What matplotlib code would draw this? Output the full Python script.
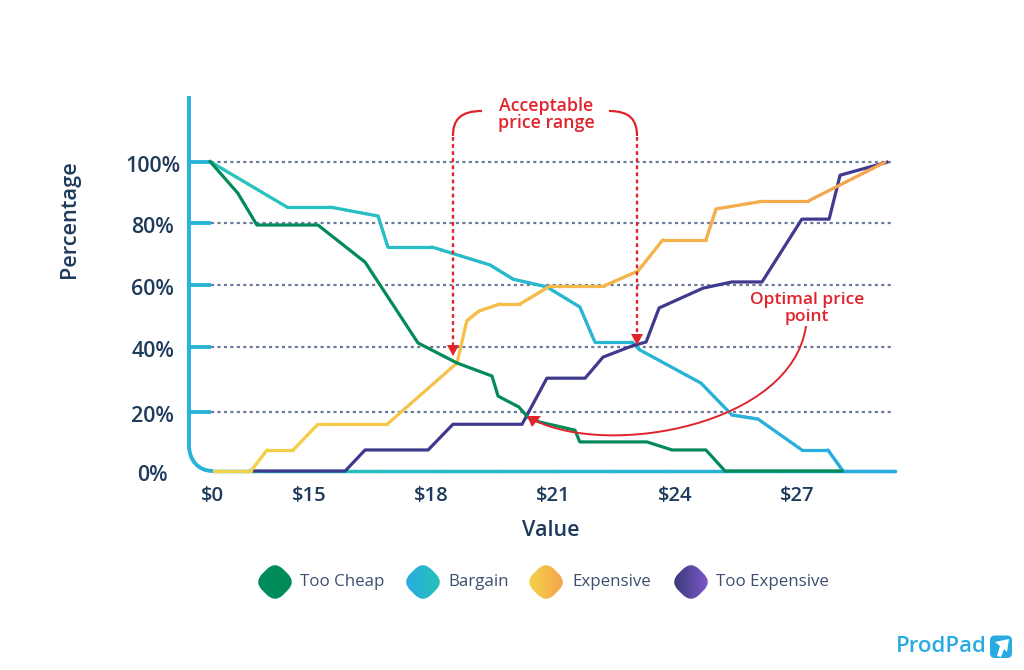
import numpy as np
import matplotlib
matplotlib.use('Agg')
import matplotlib.pyplot as plt
from matplotlib.collections import LineCollection
from matplotlib.colors import LinearSegmentedColormap
from matplotlib.patches import PathPatch, Polygon, FancyBboxPatch
from matplotlib.path import Path
from matplotlib.transforms import ScaledTranslation

plt.rcParams['font.family'] = ['Open Sans', 'Noto Sans', 'DejaVu Sans']

# --- data ---
cheap_x = [12.57, 13.25, 13.72, 15.22, 16.38, 17.68, 18.64, 19.50, 19.65, 20.16, 20.38, 20.68, 21.54, 21.66, 23.31, 23.93, 24.76, 25.23, 28.11]
cheap_y = [100, 89.8, 79.5, 79.5, 67.5, 41.4, 34.9, 30.7, 24.2, 20.7, 17.4, 15.8, 13.2, 9.4, 9.4, 6.8, 6.8, 0, 0]

bargain_x = [12.57, 14.46, 15.52, 16.70, 16.94, 18.02, 19.45, 20.02, 20.85, 21.66, 22.03, 22.94, 23.14, 24.64, 25.40, 26.04, 27.12, 27.76, 28.13, 29.41]
bargain_y = [100, 85.3, 85.3, 82.4, 72.4, 72.4, 66.6, 62.0, 59.5, 53.0, 41.7, 41.7, 39.1, 28.4, 18.1, 16.8, 6.8, 6.8, 0, 0]

expensive_x = [12.64, 13.57, 13.97, 14.61, 15.22, 16.92, 18.64, 18.88, 19.18, 19.70, 20.19, 20.93, 22.25, 23.09, 23.70, 24.76, 25.01, 26.16, 27.27, 29.16]
expensive_y = [0, 0, 6.8, 6.8, 15.1, 15.1, 34.9, 48.5, 51.7, 54.0, 54.0, 59.8, 59.8, 64.6, 74.7, 74.7, 84.7, 87.2, 87.2, 99.8]

too_exp_x = [13.57, 15.89, 16.38, 17.93, 18.54, 20.24, 20.85, 21.79, 22.23, 22.94, 23.29, 23.61, 24.69, 25.40, 26.14, 27.12, 27.79, 28.06, 29.21]
too_exp_y = [0, 0, 6.8, 6.8, 15.1, 15.1, 30.0, 30.0, 36.8, 40.4, 41.7, 52.7, 59.1, 61.1, 61.1, 81.4, 81.4, 95.6, 99.8]

y_ticks = [0, 19.2, 40, 60, 80, 100]
y_labels = ['0%', '20%', '40%', '60%', '80%', '100%']
x_ticks = [12.64, 15, 18, 21, 24, 27]
x_labels = ['$0', '$15', '$18', '$21', '$24', '$27']

legend_names = ['Too Cheap', 'Bargain', 'Expensive', 'Too Expensive']

NAVY = '#1f3b5c'
RED = '#e0242c'
BLUE = '#29b3d9'
W, H = 1024, 670


def gradient_line(ax, xs, ys, cmap, z, lw=2.3):
    # partir cada tramo en pedacitos para pintar el degradado
    px, py = [], []
    for i in range(len(xs) - 1):
        px.extend(np.linspace(xs[i], xs[i + 1], 12, endpoint=False))
        py.extend(np.linspace(ys[i], ys[i + 1], 12, endpoint=False))
    px.append(xs[-1])
    py.append(ys[-1])
    pts = np.column_stack([px, py])
    segs = np.stack([pts[:-1], pts[1:]], axis=1)
    lc = LineCollection(segs, cmap=cmap, linewidths=lw, zorder=z, capstyle='round', clip_on=False)
    lc.set_array(np.array(px[:-1]))
    lc.set_clim(12.5, 29.4)
    ax.add_collection(lc)


def diamond_path(cx, cy, r, k=0.4):
    # rombo con las puntas redondeadas
    corners = [(cx, cy - r), (cx + r, cy), (cx, cy + r), (cx - r, cy)]
    verts, codes = [], []
    for i, c in enumerate(corners):
        prev = np.array(corners[i - 1])
        nxt = np.array(corners[(i + 1) % 4])
        c = np.array(c)
        a = c + (prev - c) * k
        b = c + (nxt - c) * k
        verts += [tuple(a), tuple(c), tuple(b)]
        codes += [Path.MOVETO if i == 0 else Path.LINETO, Path.CURVE3, Path.CURVE3]
    verts.append(verts[0])
    codes.append(Path.CLOSEPOLY)
    return Path(verts, codes)


fig = plt.figure(figsize=(W / 100, H / 100), dpi=100, facecolor='white')
ax = fig.add_axes([189 / W, 1 - 471 / H, (895 - 189) / W, (471 - 96) / H])
ax.set_xlim(12.05, 29.41)
ax.set_ylim(0, 121.2)
for s in ax.spines.values():
    s.set_visible(False)

# grid y marcas del eje y
ax.hlines(y_ticks[1:], 12.6, 29.3, colors='#6b7a9c', linewidth=1.6, linestyles=(0, (1.4, 1.5)), zorder=1)
ax.hlines(y_ticks[1:], 12.05, 12.58, colors=BLUE, linewidth=2.8, zorder=2)

ax.set_yticks(y_ticks)
ax.set_yticklabels(y_labels, fontsize=15.5, color=NAVY, fontweight=600, ha='center')
ax.tick_params(axis='y', length=0, pad=26)
# las etiquetas van un poco mas abajo que la linea
shift = ScaledTranslation(0, -2 / 100, fig.dpi_scale_trans)
for lab in ax.get_yticklabels():
    lab.set_transform(lab.get_transform() + shift)
ax.set_xticks(x_ticks)
ax.set_xticklabels(x_labels, fontsize=14.6, color=NAVY, fontweight=600)
ax.tick_params(axis='x', length=0, pad=11)
ax.set_xlabel('Value', fontsize=15.5, color=NAVY, fontweight=600)
ax.set_ylabel('Percentage', fontsize=15.7, color=NAVY, fontweight=600)
ax.yaxis.set_label_coords((70 - 189) / (895 - 189), (471 - 219) / (471 - 96))
ax.yaxis.label.set_verticalalignment('center')
ax.xaxis.set_label_coords((551 - 189) / (895 - 189), -(531 - 471) / (471 - 96))
ax.xaxis.label.set_verticalalignment('center')

# eje inferior con degradado
base_cmap = LinearSegmentedColormap.from_list('base', ['#25c2b8', '#29abe2'])
gradient_line(ax, [12.64, 29.41], [0, 0], base_cmap, 2, lw=2.5)

# series
bargain_cmap = LinearSegmentedColormap.from_list('bargain', ['#27c4ba', '#29abe2'])
expensive_cmap = LinearSegmentedColormap.from_list('expensive', ['#f5d34a', '#f4a24c'])
gradient_line(ax, bargain_x, bargain_y, bargain_cmap, 3)
gradient_line(ax, expensive_x, expensive_y, expensive_cmap, 4)
ax.plot(too_exp_x, too_exp_y, color='#403a8e', lw=2.3, zorder=3.5, clip_on=False, solid_joinstyle='round')
ax.plot(cheap_x, cheap_y, color='#038a59', lw=2.3, zorder=5, clip_on=False, solid_joinstyle='round')

# --- capa en pixeles para anotaciones, leyenda y logo ---
ov = fig.add_axes([0, 0, 1, 1], zorder=5)
ov.set_xlim(0, W)
ov.set_ylim(H, 0)
ov.axis('off')
ov.patch.set_alpha(0)

# eje vertical con la esquina redondeada
ov.add_patch(PathPatch(Path([(189, 96), (189, 445), (189, 460), (198, 471), (213, 471)],
                            [Path.MOVETO, Path.LINETO, Path.CURVE4, Path.CURVE4, Path.CURVE4]),
                       fill=False, edgecolor=BLUE, lw=2.8, capstyle='butt'))

# rango aceptable
ov.plot([453, 453], [137, 346], color=RED, lw=1.7, ls=(0, (1.6, 1.4)))
ov.plot([637, 637], [137, 338], color=RED, lw=1.7, ls=(0, (1.6, 1.4)))
ov.add_patch(PathPatch(Path([(453, 136), (453, 120), (460, 111), (482, 111)],
                            [Path.MOVETO, Path.CURVE4, Path.CURVE4, Path.CURVE4]),
                       fill=False, edgecolor=RED, lw=1.6))
ov.add_patch(PathPatch(Path([(637, 136), (637, 120), (630, 111), (609, 111)],
                            [Path.MOVETO, Path.CURVE4, Path.CURVE4, Path.CURVE4]),
                       fill=False, edgecolor=RED, lw=1.6))
ov.add_patch(Polygon([(447, 345), (459, 345), (453, 356)], color=RED, lw=0))
ov.add_patch(Polygon([(631, 334), (643, 334), (637, 345)], color=RED, lw=0))
ov.text(546, 106, 'Acceptable', color=RED, fontsize=12.8, fontweight=600, ha='center', va='center')
ov.text(546, 123, 'price range', color=RED, fontsize=12.8, fontweight=600, ha='center', va='center')

# precio optimo
ov.add_patch(PathPatch(Path([(806, 326), (792, 425), (610, 458), (534, 420)],
                            [Path.MOVETO, Path.CURVE4, Path.CURVE4, Path.CURVE4]),
                       fill=False, edgecolor=RED, lw=1.4))
ov.add_patch(Polygon([(527, 416), (541, 416), (532, 427)], color=RED, lw=0))
ov.text(807, 300, 'Optimal price', color=RED, fontsize=12.6, fontweight=600, ha='center', va='center')
ov.text(807, 317, 'point', color=RED, fontsize=12.6, fontweight=600, ha='center', va='center')

# leyenda
legend_cx = [275, 423, 546, 691]
legend_tx = [300, 448, 572, 716]
legend_cols = [('#008c5a', '#008c5a'), ('#29abe2', '#25c2b8'), ('#f5d34a', '#f4a24c'), ('#373a78', '#7f58cc')]
for name, cx, tx, cols in zip(legend_names, legend_cx, legend_tx, legend_cols):
    cmap = LinearSegmentedColormap.from_list(name, list(cols))
    im = ov.imshow(np.linspace(0, 1, 64).reshape(1, -1), cmap=cmap, extent=(cx - 18, cx + 18, 600, 564),
                   aspect='auto', zorder=3)
    im.set_clip_path(PathPatch(diamond_path(cx, 582, 21), transform=ov.transData))
    ov.text(tx, 582, name, color='#3b4f6e', fontsize=12.2, ha='left', va='center')
ov.set_xlim(0, W)
ov.set_ylim(H, 0)

# logo
ov.text(896, 647, 'ProdPad', color='#29abe2', fontsize=15.9, fontweight=600, ha='left', va='center')
ov.add_patch(FancyBboxPatch((991.5, 637), 19, 19.5, boxstyle='round,pad=1.5,rounding_size=5',
                            facecolor='#29abe2', edgecolor='none'))
ov.add_patch(Polygon([(995, 642), (1009, 639), (1007, 652), (1004, 649), (1001, 657), (997, 656), (1000, 646)],
                     color='white', lw=0))

fig.savefig('out.png', dpi=100, facecolor='white')
